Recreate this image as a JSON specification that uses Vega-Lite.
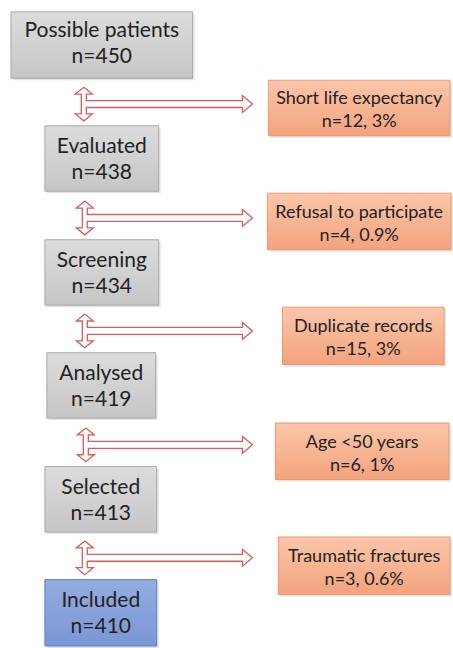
{
  "$schema": "https://vega.github.io/schema/vega-lite/v6.json",
  "width": 453,
  "height": 648,
  "autosize": {"type": "fit", "contains": "padding"},
  "padding": 0,
  "background": "white",
  "config": {"view": {"stroke": null}},
  "datasets": {
    "boxes": [
      {"id": "b1", "side": "left", "tone": "gray", "x1": 11, "x2": 193, "y1": 12, "y2": 79, "xc": 102, "yc": 43, "label": "Possible patients\nn=450"},
      {"id": "b2", "side": "left", "tone": "gray", "x1": 45, "x2": 159, "y1": 127, "y2": 193, "xc": 102, "yc": 160, "label": "Evaluated\nn=438"},
      {"id": "b3", "side": "left", "tone": "gray", "x1": 45, "x2": 159, "y1": 242, "y2": 308, "xc": 102, "yc": 275, "label": "Screening\nn=434"},
      {"id": "b4", "side": "left", "tone": "gray", "x1": 47, "x2": 156, "y1": 356, "y2": 422, "xc": 101.5, "yc": 389, "label": "Analysed\nn=419"},
      {"id": "b5", "side": "left", "tone": "gray", "x1": 45, "x2": 157, "y1": 471, "y2": 537, "xc": 101, "yc": 504, "label": "Selected\nn=413"},
      {"id": "b6", "side": "left", "tone": "blue", "x1": 45, "x2": 157, "y1": 585, "y2": 652, "xc": 101, "yc": 618, "label": "Included\nn=410"},
      {"id": "r1", "side": "right", "tone": "orange", "x1": 269, "x2": 451, "y1": 81, "y2": 137, "xc": 360, "yc": 110, "label": "Short life expectancy\nn=12, 3%"},
      {"id": "r2", "side": "right", "tone": "orange", "x1": 268, "x2": 452, "y1": 195, "y2": 252, "xc": 360, "yc": 224.5, "label": "Refusal to participate\nn=4, 0.9%"},
      {"id": "r3", "side": "right", "tone": "orange", "x1": 283, "x2": 445, "y1": 310, "y2": 368, "xc": 364, "yc": 340, "label": "Duplicate records\nn=15, 3%"},
      {"id": "r4", "side": "right", "tone": "orange", "x1": 276, "x2": 450, "y1": 427, "y2": 484, "xc": 363, "yc": 457, "label": "Age <50 years\nn=6, 1%"},
      {"id": "r5", "side": "right", "tone": "orange", "x1": 279, "x2": 451, "y1": 542, "y2": 600, "xc": 365, "yc": 572, "label": "Traumatic fractures\nn=3, 0.6%"}
    ],
    "arrows": [
      {"a": 1, "i": 1, "x": 84, "y": 88}, {"a": 1, "i": 2, "x": 92.5, "y": 95}, {"a": 1, "i": 3, "x": 86.5, "y": 95}, {"a": 1, "i": 4, "x": 86.5, "y": 101.5}, {"a": 1, "i": 5, "x": 243, "y": 101.5}, {"a": 1, "i": 6, "x": 243, "y": 96.5}, {"a": 1, "i": 7, "x": 253, "y": 105}, {"a": 1, "i": 8, "x": 243, "y": 113.5}, {"a": 1, "i": 9, "x": 243, "y": 108.5}, {"a": 1, "i": 10, "x": 86.5, "y": 108.5}, {"a": 1, "i": 11, "x": 86.5, "y": 115}, {"a": 1, "i": 12, "x": 92.5, "y": 115}, {"a": 1, "i": 13, "x": 84, "y": 122}, {"a": 1, "i": 14, "x": 75.5, "y": 115}, {"a": 1, "i": 15, "x": 81.5, "y": 115}, {"a": 1, "i": 16, "x": 81.5, "y": 95}, {"a": 1, "i": 17, "x": 75.5, "y": 95}, {"a": 1, "i": 18, "x": 84, "y": 88},
      {"a": 2, "i": 1, "x": 85, "y": 203}, {"a": 2, "i": 2, "x": 93.5, "y": 210}, {"a": 2, "i": 3, "x": 87.5, "y": 210}, {"a": 2, "i": 4, "x": 87.5, "y": 216.5}, {"a": 2, "i": 5, "x": 243, "y": 216.5}, {"a": 2, "i": 6, "x": 243, "y": 211.5}, {"a": 2, "i": 7, "x": 253, "y": 220}, {"a": 2, "i": 8, "x": 243, "y": 228.5}, {"a": 2, "i": 9, "x": 243, "y": 223.5}, {"a": 2, "i": 10, "x": 87.5, "y": 223.5}, {"a": 2, "i": 11, "x": 87.5, "y": 230}, {"a": 2, "i": 12, "x": 93.5, "y": 230}, {"a": 2, "i": 13, "x": 85, "y": 237}, {"a": 2, "i": 14, "x": 76.5, "y": 230}, {"a": 2, "i": 15, "x": 82.5, "y": 230}, {"a": 2, "i": 16, "x": 82.5, "y": 210}, {"a": 2, "i": 17, "x": 76.5, "y": 210}, {"a": 2, "i": 18, "x": 85, "y": 203},
      {"a": 3, "i": 1, "x": 85, "y": 317}, {"a": 3, "i": 2, "x": 93.5, "y": 324}, {"a": 3, "i": 3, "x": 87.5, "y": 324}, {"a": 3, "i": 4, "x": 87.5, "y": 330.5}, {"a": 3, "i": 5, "x": 243, "y": 330.5}, {"a": 3, "i": 6, "x": 243, "y": 325.5}, {"a": 3, "i": 7, "x": 253, "y": 334}, {"a": 3, "i": 8, "x": 243, "y": 342.5}, {"a": 3, "i": 9, "x": 243, "y": 337.5}, {"a": 3, "i": 10, "x": 87.5, "y": 337.5}, {"a": 3, "i": 11, "x": 87.5, "y": 344}, {"a": 3, "i": 12, "x": 93.5, "y": 344}, {"a": 3, "i": 13, "x": 85, "y": 351}, {"a": 3, "i": 14, "x": 76.5, "y": 344}, {"a": 3, "i": 15, "x": 82.5, "y": 344}, {"a": 3, "i": 16, "x": 82.5, "y": 324}, {"a": 3, "i": 17, "x": 76.5, "y": 324}, {"a": 3, "i": 18, "x": 85, "y": 317},
      {"a": 4, "i": 1, "x": 86, "y": 432}, {"a": 4, "i": 2, "x": 94.5, "y": 439}, {"a": 4, "i": 3, "x": 88.5, "y": 439}, {"a": 4, "i": 4, "x": 88.5, "y": 445.5}, {"a": 4, "i": 5, "x": 243, "y": 445.5}, {"a": 4, "i": 6, "x": 243, "y": 440.5}, {"a": 4, "i": 7, "x": 253, "y": 449}, {"a": 4, "i": 8, "x": 243, "y": 457.5}, {"a": 4, "i": 9, "x": 243, "y": 452.5}, {"a": 4, "i": 10, "x": 88.5, "y": 452.5}, {"a": 4, "i": 11, "x": 88.5, "y": 459}, {"a": 4, "i": 12, "x": 94.5, "y": 459}, {"a": 4, "i": 13, "x": 86, "y": 466}, {"a": 4, "i": 14, "x": 77.5, "y": 459}, {"a": 4, "i": 15, "x": 83.5, "y": 459}, {"a": 4, "i": 16, "x": 83.5, "y": 439}, {"a": 4, "i": 17, "x": 77.5, "y": 439}, {"a": 4, "i": 18, "x": 86, "y": 432},
      {"a": 5, "i": 1, "x": 85, "y": 546}, {"a": 5, "i": 2, "x": 93.5, "y": 553}, {"a": 5, "i": 3, "x": 87.5, "y": 553}, {"a": 5, "i": 4, "x": 87.5, "y": 559.5}, {"a": 5, "i": 5, "x": 243, "y": 559.5}, {"a": 5, "i": 6, "x": 243, "y": 554.5}, {"a": 5, "i": 7, "x": 253, "y": 563}, {"a": 5, "i": 8, "x": 243, "y": 571.5}, {"a": 5, "i": 9, "x": 243, "y": 566.5}, {"a": 5, "i": 10, "x": 87.5, "y": 566.5}, {"a": 5, "i": 11, "x": 87.5, "y": 573}, {"a": 5, "i": 12, "x": 93.5, "y": 573}, {"a": 5, "i": 13, "x": 85, "y": 580}, {"a": 5, "i": 14, "x": 76.5, "y": 573}, {"a": 5, "i": 15, "x": 82.5, "y": 573}, {"a": 5, "i": 16, "x": 82.5, "y": 553}, {"a": 5, "i": 17, "x": 76.5, "y": 553}, {"a": 5, "i": 18, "x": 85, "y": 546}
    ]
  },
  "layer": [
    {
      "data": {"name": "boxes"},
      "mark": {"type": "rect", "fill": "#e4e4e4", "xOffset": 2, "yOffset": 2, "x2Offset": 2, "y2Offset": 2},
      "encoding": {
        "x": {"field": "x1", "type": "quantitative", "scale": {"domain": [0, 453]}, "axis": null},
        "x2": {"field": "x2"},
        "y": {"field": "y1", "type": "quantitative", "scale": {"domain": [0, 648], "reverse": true}, "axis": null},
        "y2": {"field": "y2"}
      }
    },
    {
      "data": {"name": "boxes"},
      "transform": [{"filter": "datum.tone === 'gray'"}],
      "mark": {"type": "rect", "strokeWidth": 1, "stroke": "#a9a9a9",
        "fill": {"gradient": "linear", "x1": 0, "y1": 0, "x2": 0, "y2": 1,
          "stops": [{"offset": 0, "color": "#dcdcdc"}, {"offset": 1, "color": "#c6c6c6"}]}},
      "encoding": {
        "x": {"field": "x1", "type": "quantitative", "scale": {"domain": [0, 453]}, "axis": null},
        "x2": {"field": "x2"},
        "y": {"field": "y1", "type": "quantitative", "scale": {"domain": [0, 648], "reverse": true}, "axis": null},
        "y2": {"field": "y2"}
      }
    },
    {
      "data": {"name": "boxes"},
      "transform": [{"filter": "datum.tone === 'blue'"}],
      "mark": {"type": "rect", "strokeWidth": 1, "stroke": "#5f7fc4",
        "fill": {"gradient": "linear", "x1": 0, "y1": 0, "x2": 0, "y2": 1,
          "stops": [{"offset": 0, "color": "#94addf"}, {"offset": 1, "color": "#7a96d5"}]}},
      "encoding": {
        "x": {"field": "x1", "type": "quantitative", "scale": {"domain": [0, 453]}, "axis": null},
        "x2": {"field": "x2"},
        "y": {"field": "y1", "type": "quantitative", "scale": {"domain": [0, 648], "reverse": true}, "axis": null},
        "y2": {"field": "y2"}
      }
    },
    {
      "data": {"name": "boxes"},
      "transform": [{"filter": "datum.tone === 'orange'"}],
      "mark": {"type": "rect", "strokeWidth": 1, "stroke": "#e9976f",
        "fill": {"gradient": "linear", "x1": 0, "y1": 0, "x2": 0, "y2": 1,
          "stops": [{"offset": 0, "color": "#fbc6aa"}, {"offset": 1, "color": "#f3a37d"}]}},
      "encoding": {
        "x": {"field": "x1", "type": "quantitative", "scale": {"domain": [0, 453]}, "axis": null},
        "x2": {"field": "x2"},
        "y": {"field": "y1", "type": "quantitative", "scale": {"domain": [0, 648], "reverse": true}, "axis": null},
        "y2": {"field": "y2"}
      }
    },
    {
      "data": {"name": "arrows"},
      "mark": {"type": "line", "stroke": "#de5b58", "strokeWidth": 1.3, "strokeJoin": "miter"},
      "encoding": {
        "x": {"field": "x", "type": "quantitative", "scale": {"domain": [0, 453]}, "axis": null},
        "y": {"field": "y", "type": "quantitative", "scale": {"domain": [0, 648], "reverse": true}, "axis": null},
        "detail": {"field": "a", "type": "nominal"},
        "order": {"field": "i", "type": "quantitative"}
      }
    },
    {
      "data": {"name": "boxes"},
      "transform": [{"filter": "datum.side === 'left'"}],
      "mark": {"type": "text", "font": "Lato", "fontSize": 21, "lineHeight": 26, "lineBreak": "\n", "align": "center", "baseline": "middle", "dy": -11.5, "color": "#222222"},
      "encoding": {
        "x": {"field": "xc", "type": "quantitative", "scale": {"domain": [0, 453]}, "axis": null},
        "y": {"field": "yc", "type": "quantitative", "scale": {"domain": [0, 648], "reverse": true}, "axis": null},
        "text": {"field": "label", "type": "nominal"}
      }
    },
    {
      "data": {"name": "boxes"},
      "transform": [{"filter": "datum.side === 'right'"}],
      "mark": {"type": "text", "font": "Lato", "fontSize": 18, "lineHeight": 23, "lineBreak": "\n", "align": "center", "baseline": "middle", "dy": -9.5, "color": "#222222"},
      "encoding": {
        "x": {"field": "xc", "type": "quantitative", "scale": {"domain": [0, 453]}, "axis": null},
        "y": {"field": "yc", "type": "quantitative", "scale": {"domain": [0, 648], "reverse": true}, "axis": null},
        "text": {"field": "label", "type": "nominal"}
      }
    }
  ]
}
